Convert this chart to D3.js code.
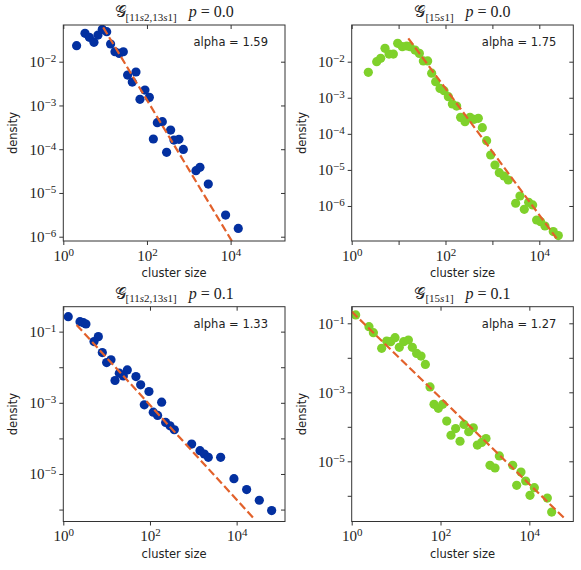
<!DOCTYPE html>
<html lang="en">
<head>
<meta charset="utf-8">
<title>Cluster size distributions</title>
<script src="https://cdn.jsdelivr.net/npm/d3@7"></script>
<style>
  body { margin: 0; background: #fff; }
  .lab { font-family: "DejaVu Sans", sans-serif; font-size: 11.5px; fill: #222; }
  .tk text { font-family: "Liberation Serif", serif; font-size: 15px; fill: #222; }
  .tk line { stroke: #333; }
  .tk path { display: none; }
  .ttl { font-family: "Liberation Serif", serif; font-size: 16px; fill: #222; }
</style>
</head>
<body>
<script>
// ---- data ----
// top-left: G[11s2,13s1], p = 0.0
var size1 = [2.08, 3.30, 4.19, 5.41, 6.75, 8.55, 10.9, 13.5, 17.2, 21.8, 27.2, 34.5, 44.6, 54.6, 68.1,
             89.5, 114, 142, 177, 233, 295, 368, 442, 582, 740, 1483, 1849, 2924, 7586, 15240];
var dens1 = [0.0232, 0.0445, 0.0360, 0.0277, 0.0407, 0.0550, 0.0485, 0.0254, 0.0169, 0.0155, 0.0169,
             0.00495, 0.00343, 0.00581, 0.00138, 0.00225, 0.00153, 0.000171, 0.000404, 0.000426,
             0.0000847, 0.000274, 0.000162, 0.000168, 0.0000991, 0.0000323, 0.0000385, 0.000016,
             3.13e-6, 1.55e-6];
var fitX1 = [9.0, 14000], fitY1 = [0.061, 5.2e-7];

// top-right: G[15s1], p = 0.0
var size2 = [2.26, 3.41, 4.15, 5.13, 6.25, 7.73, 9.55, 12.0, 14.9, 17.5, 22.4, 27.7, 33.7, 41.7, 50.7,
             61.7, 76.4, 92.9, 115, 140, 173, 210, 261, 333, 406, 501, 610, 753, 918, 1135, 1403,
             1766, 2183, 3133, 3873, 4786, 5929, 7211, 8770, 10666, 13213, 19860, 25410];
var dens2 = [0.00506, 0.0100, 0.0124, 0.0234, 0.0163, 0.0163, 0.0322, 0.0261, 0.0272, 0.0261, 0.0210,
             0.0170, 0.0105, 0.0105, 0.00479, 0.00279, 0.00182, 0.00157, 0.00107, 0.000671, 0.000590,
             0.000286, 0.000217, 0.000286, 0.000252, 0.000269, 0.000148, 0.0000647, 0.0000259,
             0.0000137, 8.39e-6, 6.78e-6, 5.25e-6, 1.19e-6, 1.89e-6, 8.09e-7, 1.26e-6, 1.07e-6,
             4.09e-7, 3.68e-7, 2.79e-7, 1.95e-7, 1.51e-7];
var fitX2 = [16.1, 23400], fitY2 = [0.0444, 1.27e-7];

// bottom-left: G[11s2,13s1], p = 0.1
var size3 = [1.30, 2.43, 2.90, 3.33, 5.11, 6.43, 7.94, 10.0, 12.6, 15.6, 19.6, 24.3, 30.0, 47.5, 61.0,
             74.0, 94.8, 119, 150, 186, 230, 290, 365, 916, 1426, 1795, 2218, 4276, 8670, 17020,
             33340, 64270];
var dens3 = [0.264, 0.191, 0.179, 0.164, 0.0525, 0.0724, 0.0258, 0.0135, 0.0161, 0.00423, 0.00679,
             0.00571, 0.00841, 0.00547, 0.00320, 0.000879, 0.00208, 0.000547, 0.000442, 0.00104,
             0.000281, 0.000226, 0.000175, 0.0000693, 0.0000451, 0.0000364, 0.0000293, 0.0000293,
             7.4e-6, 3.64e-6, 1.83e-6, 9.38e-7];
var fitX3 = [2.03, 24300], fitY3 = [0.154, 5.83e-7];

// bottom-right: G[15s1], p = 0.1
var size4 = [1.23, 2.45, 3.08, 4.73, 6.14, 7.55, 9.46, 11.8, 14.8, 18.9, 23.2, 29.0, 36.4, 45.6, 58.1,
             71.4, 89.3, 112, 138, 172, 219, 275, 338, 431, 548, 675, 845, 1057, 1300, 1687, 2109,
             4217, 5188, 6486, 8260, 10350, 12970, 25410, 31840];
var dens4 = [0.175, 0.0800, 0.0536, 0.0188, 0.0307, 0.0293, 0.0384, 0.0201, 0.0293, 0.0328, 0.0201,
             0.0134, 0.0112, 0.00644, 0.00143, 0.000448, 0.000343, 0.000448, 0.000147, 0.0000569,
             0.0000889, 0.0000381, 0.000117, 0.0000719, 0.0000940, 0.0000295, 0.0000352, 0.0000456,
             7.66e-6, 6.4e-6, 0.0000143, 7.66e-6, 2.01e-6, 4.9e-6, 2.69e-6, 1.03e-6, 1.72e-6,
             8.61e-7, 3.37e-7];
var fitX4 = [1.0, 63500], fitY4 = [0.218, 2.16e-7];

var alphas = ["1.59", "1.75", "1.33", "1.27"];
var graphSub = ["[11s2,13s1]", "[15s1]", "[11s2,13s1]", "[15s1]"];
var pValues = ["0.0", "0.0", "0.1", "0.1"];

var svg = d3.select("body").append("svg").attr("width", 581).attr("height", 570);
var defs = svg.append("defs");

var blue = "#0330a0", green = "#7fd12b", orange = "#e2612b";

function sup(e) { return e < 0 ? "\u2212" + (-e) : "" + e; }

function relabel(sel, show) {
  sel.selectAll(".tick text").each(function (d) {
    var e = Math.round(Math.log10(d));
    var t = d3.select(this).text("");
    if (!show(e)) return;
    t.append("tspan").text("10");
    t.append("tspan").attr("dy", "-0.45em").style("font-size", "11px").text(sup(e));
  });
}

function panel(i, box, xdom, ydom, xt, yt, xShow, yShow, xs, ys, fx, fy, col) {
  var x = d3.scaleLog().domain(xdom).range([box.l, box.r]);
  var y = d3.scaleLog().domain(ydom).range([box.b, box.t]);
  var g = svg.append("g");

  defs.append("clipPath").attr("id", "clip" + i).append("rect")
      .attr("x", box.l).attr("y", box.t).attr("width", box.r - box.l).attr("height", box.b - box.t);

  var plot = g.append("g").attr("clip-path", "url(#clip" + i + ")");
  plot.selectAll("circle").data(d3.zip(xs, ys)).enter().append("circle")
      .attr("cx", function (d) { return x(d[0]); })
      .attr("cy", function (d) { return y(d[1]); })
      .attr("r", 4.6)
      .attr("fill", col);

  plot.append("path")
      .datum(d3.zip(fx, fy))
      .attr("d", d3.line().x(function (d) { return x(d[0]); }).y(function (d) { return y(d[1]); }))
      .attr("fill", "none").attr("stroke", orange).attr("stroke-width", 2.2)
      .attr("stroke-dasharray", "8,3.5");

  // frame
  g.append("rect").attr("x", box.l).attr("y", box.t)
      .attr("width", box.r - box.l).attr("height", box.b - box.t)
      .attr("fill", "none").attr("stroke", "#333").attr("stroke-width", 1);

  // ticks: out on bottom/left, in on top/right
  var xb = g.append("g").attr("class", "tk").attr("transform", "translate(0," + box.b + ")")
      .call(d3.axisBottom(x).tickValues(xt).tickSize(4).tickPadding(5));
  relabel(xb, xShow);
  g.append("g").attr("class", "tk").attr("transform", "translate(0," + box.t + ")")
      .call(d3.axisBottom(x).tickValues(xt).tickSize(4).tickFormat(""));
  var yl = g.append("g").attr("class", "tk").attr("transform", "translate(" + box.l + ",0)")
      .call(d3.axisLeft(y).tickValues(yt).tickSize(4).tickPadding(3));
  relabel(yl, yShow);
  g.append("g").attr("class", "tk").attr("transform", "translate(" + box.r + ",0)")
      .call(d3.axisLeft(y).tickValues(yt).tickSize(4).tickFormat(""));

  // title
  var cx = (box.l + box.r) / 2;
  var tt = g.append("text").attr("class", "ttl").attr("x", cx).attr("y", box.t - 8)
      .attr("text-anchor", "middle");
  tt.append("tspan").text("\uD835\uDCA2");
  var parts = graphSub[i].split("s");
  tt.append("tspan").attr("dy", 3.5).style("font-size", "11px").text(parts[0]);
  for (var k = 1; k < parts.length; k++) {
    tt.append("tspan").style("font-size", "11px").style("font-style", "italic").text("s");
    tt.append("tspan").style("font-size", "11px").text(parts[k]);
  }
  tt.append("tspan").attr("dy", -3.5).text("\u2002 ");
  tt.append("tspan").style("font-style", "italic").text("p");
  tt.append("tspan").text(" = " + pValues[i]);

  g.append("text").attr("class", "lab").attr("x", box.r - 17).attr("y", box.t + 21)
      .attr("text-anchor", "end").text("alpha = " + alphas[i]);

  g.append("text").attr("class", "lab").attr("x", cx).attr("y", box.b + 36)
      .attr("text-anchor", "middle").text("cluster size");
  g.append("text").attr("class", "lab")
      .attr("transform", "translate(" + (box.l - 46) + "," + ((box.t + box.b) / 2) + ") rotate(-90)")
      .attr("x", 0).attr("y", 0).attr("text-anchor", "middle").text("density");
}

function all() { return true; }
function even(e) { return e % 2 === 0; }
function odd(e) { return e % 2 !== 0; }

var decades6 = [1e-6, 1e-5, 1e-4, 1e-3, 1e-2];
var decades7 = [1e-6, 1e-5, 1e-4, 1e-3, 1e-2, 1e-1];

panel(0, {l: 63.3, r: 285, t: 25, b: 241}, [1, 199500], [7.98e-7, 0.069],
      [1, 100, 1e4], decades6, all, all, size1, dens1, fitX1, fitY1, blue);

panel(1, {l: 351.7, r: 573.3, t: 25, b: 241}, [1, 53090], [1.07e-7, 0.104],
      [1, 10, 100, 1000, 1e4], decades6, even, all, size2, dens2, fitX2, fitY2, green);

panel(2, {l: 63.3, r: 285, t: 306.7, b: 521.5}, [1, 130600], [4.62e-7, 0.502],
      [1, 100, 1e4], decades7, all, odd, size3, dens3, fitX3, fitY3, blue);

panel(3, {l: 351.7, r: 573.3, t: 306.7, b: 521.5}, [1, 97700], [1.8e-7, 0.303],
      [1, 100, 1e4], decades7, all, odd, size4, dens4, fitX4, fitY4, green);
</script>
</body>
</html>
